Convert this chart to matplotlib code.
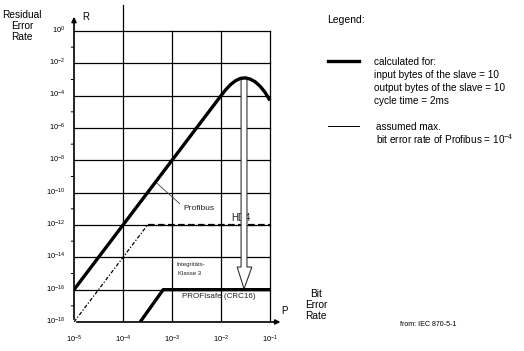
import numpy as np
import matplotlib
matplotlib.use("Agg")
import matplotlib.pyplot as plt
from matplotlib.patches import Polygon

plt.rcParams['font.family'] = ['Liberation Sans', 'DejaVu Sans']
plt.rcParams['mathtext.default'] = 'regular'

# ---- data (exponents of 10) ----
x_ticks_exp = [-5, -4, -3, -2, -1]
y_ticks_exp = [0, -2, -4, -6, -8, -10, -12, -14, -16, -18]

# calculated residual error rate (thick curve)
calc_p = [-5.0, -2.2, -2.0, -1.9, -1.8, -1.7, -1.6, -1.5, -1.4, -1.3, -1.2, -1.1, -1.0]
calc_r = [-16.0, -4.8, -4.0, -3.62, -3.3, -3.07, -2.93, -2.9, -2.98, -3.15, -3.42, -3.8, -4.3]

# Profibus slanted (thin dashed) and HD4 level (dashed)
pb_p = [-5.0, -4.0, -3.5]
pb_r = [-18.0, -14.0, -12.0]
hd4_p = [-3.5, -1.0]
hd4_r = [-12.0, -12.0]

# PROFIsafe (CRC16)
ps_p = [-3.65, -3.18, -1.0]
ps_r = [-18.0, -16.0, -16.0]

fig = plt.figure(figsize=(5.24, 3.51), dpi=100)
ax = fig.add_axes([74/524, 1 - 322/351, 210.7/524, 318.5/351])
ax.set_xscale('log')
ax.set_yscale('log')
ax.set_xlim(10**-5, 10**-0.7)
ax.set_ylim(10**-18, 10**1.7)
for s in ax.spines.values():
    s.set_visible(False)
ax.set_xticks([])
ax.set_yticks([])
ax.minorticks_off()

P = lambda e: 10.0**np.asarray(e, dtype=float)

# grid
for ye in y_ticks_exp:
    ax.plot(P([-5, -1]), P([ye, ye]), color='black', lw=0.9, zorder=1)
for xe in x_ticks_exp[1:]:
    top = 1.6 if xe == -4 else 0
    ax.plot(P([xe, xe]), P([-18, top]), color='black', lw=0.9, zorder=1)

# minor ticks on y-axis at odd decades
for ye in range(-17, 0, 2):
    ax.annotate('', xy=(P(-5), P(ye)), xytext=(-2, 0), textcoords='offset points',
                arrowprops=dict(arrowstyle='-', lw=0.7, color='black'))

# axes with arrows
ax.annotate('', xy=(P(-5), P(1.05)), xytext=(P(-5), P(-18)),
            arrowprops=dict(arrowstyle='-|>', lw=1.2, color='black', mutation_scale=7))
ax.annotate('', xy=(P(-0.73), P(-18)), xytext=(P(-5), P(-18)),
            arrowprops=dict(arrowstyle='-|>', lw=1.2, color='black', mutation_scale=7))

# tick labels
for ye in y_ticks_exp:
    ax.text(10**-5.17, 10**(ye + 0.05), r'$10^{%d}$' % ye, fontsize=5.5,
            ha='right', va='center', zorder=5)
for xe in x_ticks_exp:
    ax.text(P(xe), P(-19.1), r'$10^{%d}$' % xe, fontsize=5.5, ha='center', va='center')

# curves
ax.plot(P(calc_p), P(calc_r), color='black', lw=2.4, zorder=4, solid_capstyle='butt')
ax.plot(P(pb_p), P(pb_r), color='black', lw=0.9, ls=(0, (3, 1.5, 1, 1.5)), zorder=2)
ax.plot(P(hd4_p), P(hd4_r), color='black', lw=1.6, ls=(0, (3, 1.5)), zorder=2)
ax.plot(P(ps_p), P(ps_r), color='black', lw=2.4, zorder=4, solid_capstyle='butt')

# big hollow arrow
arrow_pts = [(-1.59, -2.95), (-1.47, -2.95), (-1.47, -14.6), (-1.37, -14.6),
             (-1.53, -15.95), (-1.67, -14.6), (-1.59, -14.6)]
ax.add_patch(Polygon([(10**a, 10**b) for a, b in arrow_pts], closed=True,
                     facecolor='white', edgecolor='#333333', lw=0.8, zorder=3))

# in-plot labels
ax.annotate('', xy=(P(-3.35), P(-9.3)), xytext=(P(-2.8), P(-10.8)),
            arrowprops=dict(arrowstyle='-', lw=0.6, color='#444444'))
ax.text(P(-2.77), P(-11.0), 'Profibus', fontsize=6, ha='left', va='center', color='#222222')
ax.text(P(-1.79), P(-11.55), 'HD4', fontsize=7, ha='left', va='center', color='#222222', zorder=2)
ax.text(P(-2.9), P(-14.45), 'Integritäts-', fontsize=4.3, ha='left', va='center', color='#222222')
ax.text(P(-2.88), P(-15.0), 'Klasse 3', fontsize=4.3, ha='left', va='center', color='#222222')
ax.text(P(-2.8), P(-16.45), 'PROFIsafe (CRC16)', fontsize=5.8, ha='left', va='center', color='#222222')

# axis names
fig.text(82/524, 1 - 17/351, 'R', fontsize=7, ha='left', va='center')
fig.text(284/524, 1 - 311/351, 'P', fontsize=7, ha='center', va='center')
fig.text(22/524, 1 - 26/351, 'Residual\nError\nRate', fontsize=7.3, ha='center', va='center',
         linespacing=1.1)
fig.text(316/524, 1 - 305/351, 'Bit\nError\nRate', fontsize=7.3, ha='center', va='center',
         linespacing=1.1)

# legend
fig.text(327/524, 1 - 20/351, 'Legend:', fontsize=7.5, ha='left', va='center')
fig.add_artist(plt.Line2D([328/524, 359/524], [1 - 61/351, 1 - 61/351], color='black', lw=2.4))
fig.add_artist(plt.Line2D([328/524, 359/524], [1 - 126/351, 1 - 126/351], color='black', lw=0.7))
leg1 = ['calculated for:', 'input bytes of the slave = 10',
        'output bytes of the slave = 10', 'cycle time = 2ms']
for i, t in enumerate(leg1):
    fig.text(374/524, 1 - (62 + 13 * i)/351, t, fontsize=7.2, ha='left', va='center')
fig.text(376/524, 1 - 127/351, 'assumed max.', fontsize=7.2, ha='left', va='center')
fig.text(376/524, 1 - 139/351, r'bit error rate of Profibus = $10^{-4}$', fontsize=7.2,
         ha='left', va='center')
fig.text(400/524, 1 - 325/351, 'from: IEC 870-5-1', fontsize=5.1, ha='left', va='center')

fig.savefig('out.png', dpi=100)
